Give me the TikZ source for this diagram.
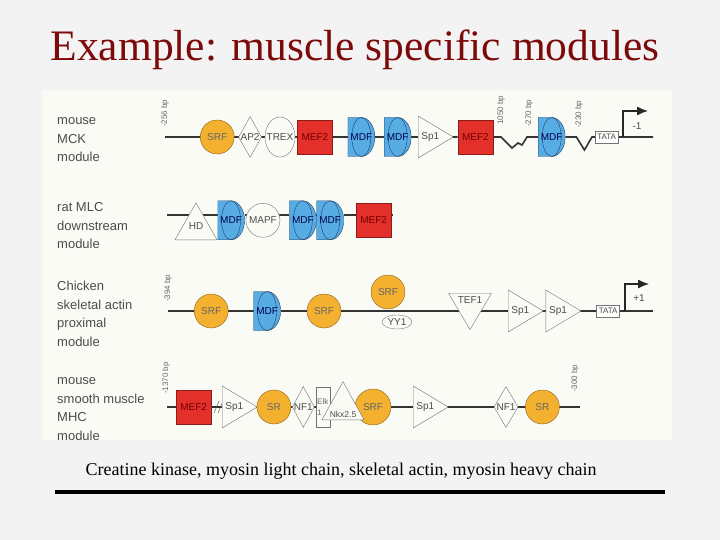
\documentclass[tikz,border=0pt]{standalone}
\usepackage{fontspec}
\setmainfont{Liberation Serif}
\setsansfont{Liberation Sans}
\usetikzlibrary{shapes.geometric, arrows.meta, positioning, backgrounds}

\definecolor{slidebg}{HTML}{F3F3F3}
\definecolor{panelbg}{HTML}{FBFBF6}
\definecolor{titlered}{HTML}{7D0A0A}
\definecolor{srforange}{HTML}{F4B12F}
\definecolor{mefred}{HTML}{E3302A}
\definecolor{mdfblue}{HTML}{58ACE4}
\definecolor{mdfline}{HTML}{1F3F66}

\begin{document}
\begin{tikzpicture}[
    x=1pt, y=-1pt,
    factor/.style={draw=black!55, thin, inner sep=0pt, font=\sffamily\fontsize{10}{10}\selectfont, text=black!70},
    srf/.style={factor, circle, fill=srforange, draw=srforange!55!black, minimum size=34pt, text=black!60},
    mef/.style={factor, rectangle, fill=mefred, draw=mefred!60!black, minimum width=35pt, minimum height=34pt, text=red!45!black},
    mdf/.style={factor, rectangle, draw=none, fill=panelbg, minimum width=27pt, minimum height=39pt, text=blue!30!black,
      path picture={
        \filldraw[fill=mdfblue, draw=mdfline, thin] (path picture bounding box.north west) -- (path picture bounding box.north)
          arc[start angle=90, end angle=-90, x radius=13.5pt, y radius=19.5pt] -- (path picture bounding box.south west) -- cycle;
        \draw[mdfline, thin] (path picture bounding box.center) ellipse[x radius=9.5pt, y radius=19.5pt];
      }},
    diam/.style={factor, diamond, inner sep=-3pt, fill=panelbg, minimum width=23pt, minimum height=41pt},
    openfac/.style={factor, ellipse, fill=panelbg},
    tri/.style={factor, isosceles triangle, isosceles triangle stretches, fill=panelbg, minimum width=42pt, minimum height=35pt},
    triup/.style={tri, shape border rotate=90, minimum width=42pt, minimum height=37pt},
    tridown/.style={tri, shape border rotate=-90, minimum width=43pt, minimum height=35pt},
    tata/.style={factor, rectangle, fill=white, font=\sffamily\fontsize{8}{8}\selectfont, minimum width=23pt, minimum height=12pt},
    bp/.style={rotate=90, anchor=west, inner sep=0pt, font=\sffamily\fontsize{8}{8}\selectfont, text=black!60},
    module/.style={anchor=west, align=left, inner sep=0pt, font=\sffamily\fontsize{13}{18.5}\selectfont, text=black!70},
    dna/.style={draw=black!80, line width=1.6pt},
    tss/.style={draw=black!85, line width=1.3pt, -{Latex[length=11pt, width=9pt]}}
  ]
  \useasboundingbox (0,0) rectangle (720,540);

  % title and caption
  \node[font=\fontsize{43.5}{44}\selectfont, text=titlered, anchor=base] (title) at (355,61) {Example: muscle specific modules};
  \node[font=\fontsize{18}{18}\selectfont, anchor=base] (caption) at (341,475) {Creatine kinase, myosin light chain, skeletal actin, myosin heavy chain};
  \coordinate (ruleL) at (55,492);
  \coordinate (ruleR) at (665,492);
  \draw[line width=3.5pt] (ruleL) -- (ruleR);

  % module names
  \node[module] (lblA) at (57,140) {mouse\\MCK\\module};
  \node[module] (lblB) at (57,226) {rat MLC\\downstream\\module};
  \node[module] (lblC) at (57,314) {Chicken\\skeletal actin\\proximal\\module};
  \begin{scope}
    \clip (42,90) rectangle (672,440);
    \node[module] (lblD) at (57,409) {mouse\\smooth muscle\\MHC\\module};
  \end{scope}

  % mouse MCK
  \coordinate (mckstart) at (165,137);
  \coordinate (mckend) at (653,137);
  \node[bp] (bpA) at (165,127) {-256 bp};
  \node[srf, right=35pt of mckstart] (srfA) {SRF};
  \node[diam, right=4pt of srfA] (apA) {AP2};
  \node[openfac, inner xsep=-4pt, minimum width=30pt, minimum height=40pt, right=3pt of apA] (trexA) {TREX};
  \node[mef, right=2pt of trexA] (mefA) {MEF2};
  \node[mdf, right=15pt of mefA] (mdfA) {MDF};
  \node[mdf, right=9pt of mdfA] (mdfB) {MDF};
  \node[tri, anchor=lower side] (spA) at (418,137) {Sp1};
  \node[mef, right=4pt of spA.apex, anchor=west] (mefB) {MEF2};
  \node[bp] (bpB) at (501,125) {1050 bp};
  \coordinate (zigA) at (501,137);
  \coordinate (zigB) at (527,137);
  \node[bp] (bpC) at (529,127) {-270 bp};
  \node[mdf, right=11pt of zigB] (mdfC) {MDF};
  \node[bp] (bpD) at (579,128) {-230 bp};
  \coordinate[right=11pt of mdfC] (vA);
  \coordinate (vB) at (592,137);
  \node[tata, right=3pt of vB] (tataA) {TATA};
  \coordinate (tssA) at (623,137);
  \draw[tss] (tssA) -- ++(0,-26) -- ++(25,0);
  \node[font=\sffamily\fontsize{10}{10}\selectfont, text=black!70] (startA) at (637,126) {-1};

  % rat MLC
  \coordinate (mlcstart) at (167,215);
  \coordinate (mlcend) at (393,215);
  \node[triup, anchor=lower side] (hd) at (196,240) {\raisebox{7pt}{HD}};
  \node[mdf, anchor=south west] (mdfD) at (hd.right corner) {MDF};
  \node[openfac, circle, minimum size=34pt, right=1pt of mdfD] (mapf) {MAPF};
  \node[mdf, right=9pt of mapf] (mdfE) {MDF};
  \node[mdf, right=0pt of mdfE] (mdfF) {MDF};
  \node[mef, right=12pt of mdfF] (mefC) {MEF2};

  % chicken skeletal actin
  \coordinate (actstart) at (168,311);
  \coordinate (actend) at (653,311);
  \node[bp] (bpE) at (168,302) {-394 bp};
  \node[srf, right=26pt of actstart] (srfB) {SRF};
  \node[mdf, right=25pt of srfB] (mdfG) {MDF};
  \node[srf, right=26pt of mdfG] (srfC) {SRF};
  \node[srf] (srfD) at (388,292) {SRF};
  \node[openfac, minimum width=30pt, minimum height=14pt] (yy) at (397,322) {YY1};
  \node[tridown, anchor=lower side] (tef) at (470,293) {\raisebox{-6pt}{TEF1}};
  \node[tri, anchor=lower side] (spB) at (508,311) {Sp1};
  \node[tri, right=2pt of spB.apex, anchor=lower side] (spC) {Sp1};
  \node[tata, right=15pt of spC.apex, anchor=west] (tataB) {TATA};
  \coordinate (tssB) at (625,311);
  \draw[tss] (tssB) -- ++(0,-27) -- ++(24,0);
  \node[font=\sffamily\fontsize{10}{10}\selectfont, text=black!70] (startB) at (639,298) {+1};

  % mouse smooth muscle MHC
  \coordinate (mhcstart) at (167,407);
  \coordinate (mhcend) at (580,407);
  \node[bp] (bpF) at (166,394) {-1370 bp};
  \node[mef, right=9pt of mhcstart] (mefD) {MEF2};
  \coordinate (brk) at (218,407);
  \draw[black!70, thin] (brk) ++(-4,6) -- ++(5,-12) ++(-1,12) -- ++(5,-12);
  \node[tri, anchor=lower side] (spD) at (222,407) {Sp1};
  \node[srf, right=-1pt of spD.apex, anchor=west] (srE) {SR};
  \node[diam, minimum width=22pt, right=1pt of srE] (nfA) {NF1};
  \node[factor, rectangle, fill=panelbg, minimum width=14pt, minimum height=40pt, align=left, text=black!60,
        font=\sffamily\fontsize{8}{11}\selectfont, right=1pt of nfA] (elk) {Elk\\1};
  \node[srf, minimum size=36pt] (srfE) at (373,407) {SRF};
  \node[triup, font=\sffamily\fontsize{8.5}{8.5}\selectfont, anchor=lower side] (nkx) at (343,420) {Nkx2.5};
  \node[tri, anchor=lower side] (spE) at (413,407) {Sp1};
  \node[diam, minimum width=24pt] (nfB) at (506,407) {NF1};
  \node[srf, right=7pt of nfB] (srF) {SR};
  \node[bp] (bpG) at (575,392) {-300 bp};

  \begin{scope}[on background layer]
    \fill[slidebg] (0,0) rectangle (720,540);
    \fill[panelbg] (42,90) rectangle (672,440);
    % DNA lines
    \path[dna] (mckstart) -- (mefB) -- (zigA) -- ++(11,11) -- ++(6,-5) -- ++(4,2) -- (zigB) -- (mdfC) -- (vA) -- ++(8,13) -- (vB) -- (mckend);
    \path[dna] (mlcstart) -- (mlcend);
    \path[dna] (actstart) -- (actend);
    \path[dna] (mhcstart) -- (mhcend);
  \end{scope}
\end{tikzpicture}
\end{document}
